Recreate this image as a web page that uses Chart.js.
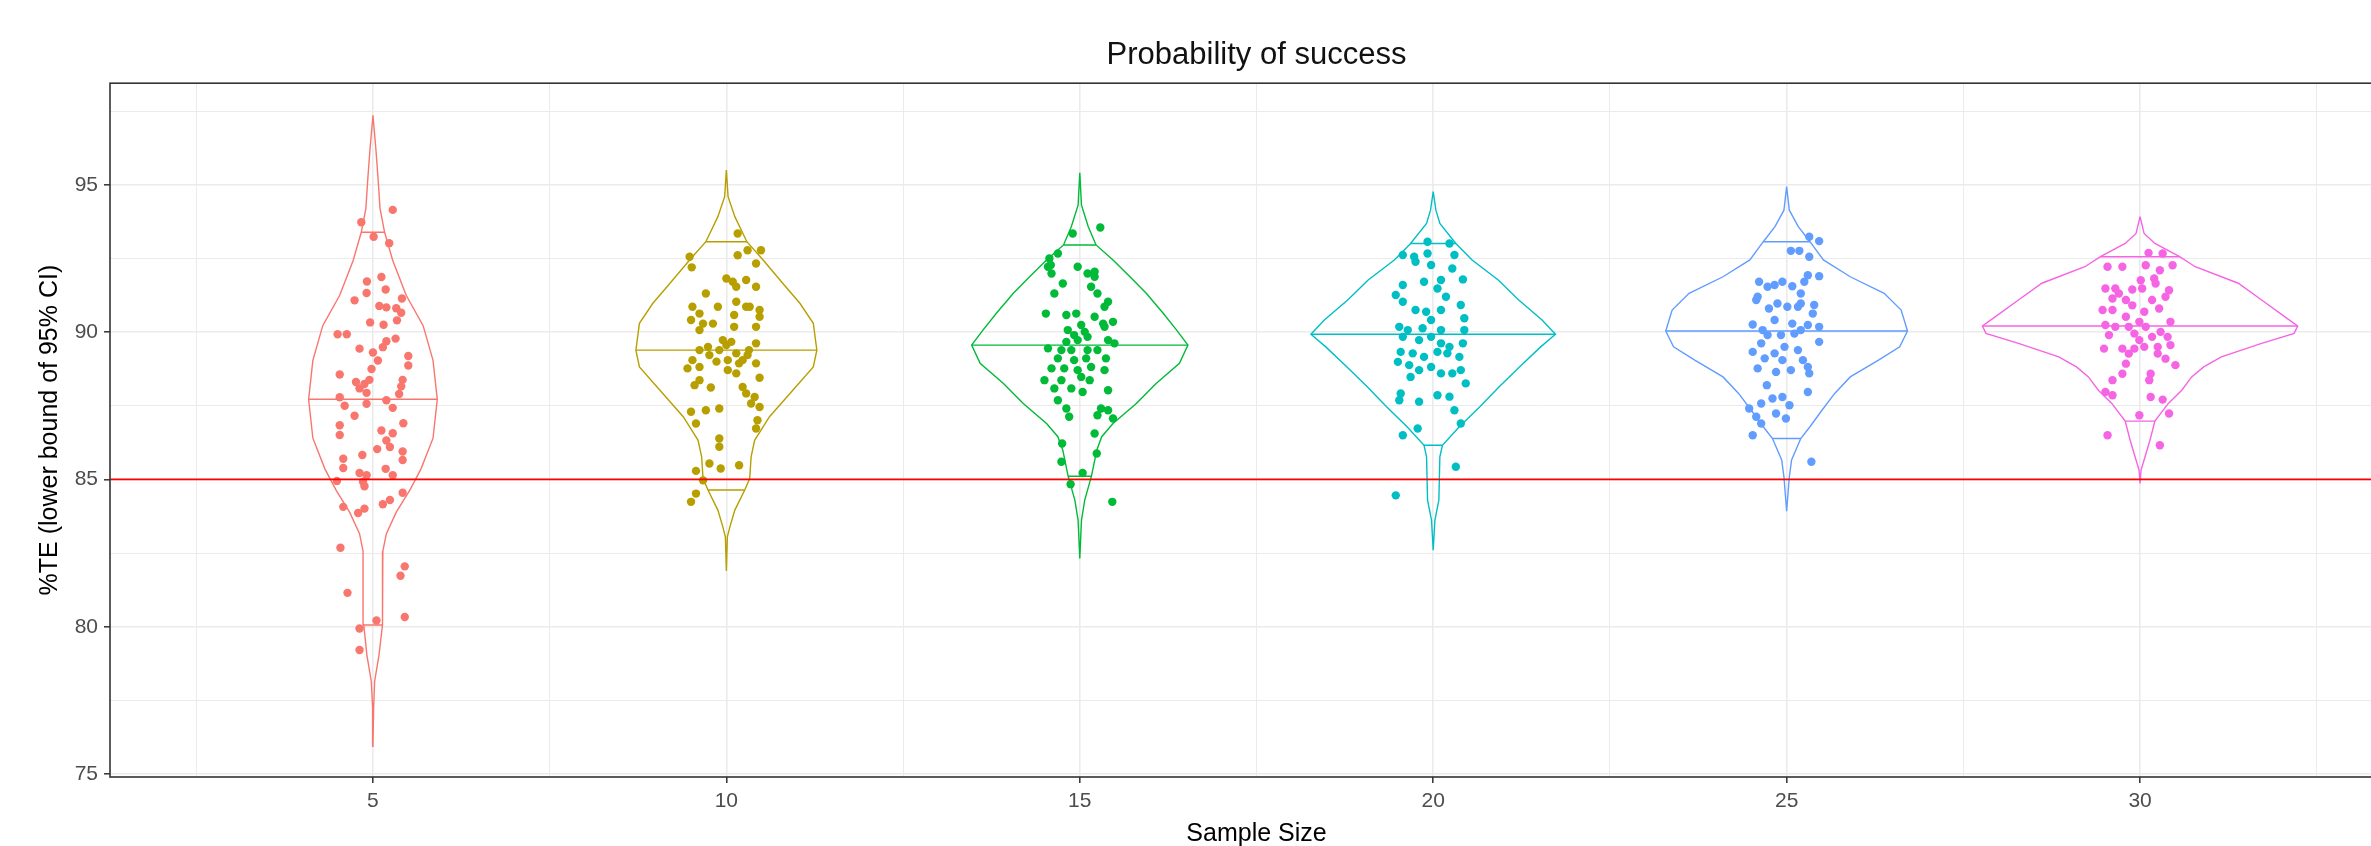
<!DOCTYPE html>
<html>
<head>
<meta charset="utf-8">
<script src="https://cdn.jsdelivr.net/npm/chart.js@4.4.1/dist/chart.umd.min.js"></script>
<style>
  html, body { margin: 0; padding: 0; background: #fff; overflow: hidden; }
  #wrap { position: relative; width: 2410px; height: 846px; }
</style>
</head>
<body>
<div id="wrap"><canvas id="violinChart"></canvas></div>
<script>
// categories and reference values
const sampleSizes = [5, 10, 15, 20, 25, 30];
const xTickLabels = [5, 10, 15, 20, 25, 30];
const yTickLabels = [75, 80, 85, 90, 95];
const threshold = 85;
const groupColors = ['#F8766D', '#B79F00', '#00BA38', '#00BFC4', '#619CFF', '#F564E3'];

// violin density profile, read top -> bottom: level and half width (x units)
const densityLevels = [
  [97.36, 96.26, 95.30, 94.20, 93.39, 92.43, 91.25, 90.22, 89.04, 87.72, 86.40, 85.36, 84.63, 83.89, 83.16, 82.57, 81.68, 80.06, 79.03, 78.15, 77.26, 75.94],
  [95.50, 94.60, 93.92, 93.07, 92.45, 91.65, 90.98, 90.30, 89.39, 88.82, 88.03, 87.13, 86.33, 85.77, 85.03, 84.64, 83.96, 83.39, 83.05, 81.89],
  [95.41, 94.31, 93.58, 92.96, 92.45, 91.88, 91.32, 90.64, 90.07, 89.56, 88.94, 88.26, 87.58, 86.90, 86.45, 85.99, 85.11, 84.30, 83.62, 82.32],
  [94.77, 94.14, 93.69, 93.01, 92.45, 91.77, 91.09, 90.41, 89.93, 89.50, 88.82, 88.14, 87.47, 86.79, 86.16, 85.77, 84.30, 83.62, 82.60],
  [94.94, 94.14, 93.58, 93.07, 92.45, 91.88, 91.32, 90.75, 90.04, 89.50, 89.05, 88.48, 87.92, 87.35, 86.79, 86.39, 85.66, 85.09, 83.92],
  [93.92, 93.35, 93.01, 92.56, 92.22, 91.66, 91.09, 90.52, 90.21, 89.96, 89.62, 89.16, 88.82, 88.48, 88.03, 87.58, 86.98, 86.33, 85.66, 85.32, 84.86]
];
const densityHalfWidths = [
  [0, 0.04, 0.07, 0.10, 0.165, 0.28, 0.47, 0.71, 0.85, 0.91, 0.85, 0.68, 0.52, 0.33, 0.19, 0.14, 0.14, 0.13, 0.085, 0.024, 0.01, 0],
  [0, 0.024, 0.12, 0.29, 0.52, 0.80, 1.04, 1.23, 1.28, 1.23, 0.94, 0.61, 0.40, 0.35, 0.33, 0.26, 0.12, 0.05, 0.014, 0],
  [0, 0.024, 0.12, 0.23, 0.47, 0.71, 0.94, 1.18, 1.37, 1.53, 1.41, 1.08, 0.80, 0.47, 0.31, 0.24, 0.165, 0.07, 0.024, 0],
  [0, 0.038, 0.094, 0.32, 0.55, 0.92, 1.21, 1.54, 1.73, 1.52, 1.22, 0.93, 0.66, 0.37, 0.13, 0.094, 0.08, 0.024, 0],
  [0, 0.038, 0.165, 0.33, 0.52, 0.90, 1.38, 1.62, 1.71, 1.60, 1.30, 0.90, 0.68, 0.50, 0.33, 0.20, 0.07, 0.038, 0],
  [0, 0.057, 0.21, 0.56, 0.78, 1.39, 1.72, 2.05, 2.23, 2.18, 1.72, 1.15, 0.90, 0.73, 0.59, 0.40, 0.21, 0.14, 0.057, 0.014, 0]
];
// draw_quantiles: lower, median, upper
const quantileLevels = [
  [80.06, 87.72, 93.39],
  [84.64, 89.39, 93.07],
  [85.11, 89.56, 92.96],
  [86.16, 89.93, 93.01],
  [86.39, 90.04, 93.07],
  [86.98, 90.21, 92.56]
];

// jittered observations: [horizontal jitter, %TE]
const jitter5 = [[0.28,94.15],[-0.165,93.73],[0.01,93.24],[0.23,93.02],[-0.085,91.72],[0.12,91.87],[-0.09,91.33],[0.18,91.45],[-0.26,91.08],[0.41,91.14],[0.09,90.89],[0.19,90.84],[0.33,90.81],[0.40,90.66],[0.34,90.40],[-0.04,90.33],[0.15,90.25],[-0.50,89.93],[-0.37,89.93],[0.32,89.78],[0.19,89.69],[-0.19,89.44],[0.14,89.49],[0,89.31],[0.07,89.04],[0.50,89.19],[0.50,88.87],[-0.02,88.75],[-0.47,88.56],[0.42,88.38],[-0.24,88.31],[-0.12,88.24],[-0.05,88.38],[0.40,88.16],[-0.19,88.09],[-0.09,87.94],[-0.47,87.79],[0.37,87.90],[0.19,87.69],[-0.40,87.50],[-0.09,87.57],[0.28,87.43],[-0.26,87.16],[0.43,86.91],[-0.47,86.84],[0.12,86.66],[0.28,86.57],[-0.47,86.51],[0.19,86.32],[0.06,86.03],[0.24,86.10],[0.42,85.95],[-0.42,85.70],[-0.15,85.83],[0.42,85.66],[-0.42,85.39],[0.18,85.36],[-0.19,85.22],[-0.09,85.14],[0.28,85.14],[-0.51,84.95],[-0.14,84.92],[-0.12,84.77],[0.42,84.55],[-0.42,84.07],[-0.12,84.01],[-0.21,83.86],[0.14,84.16],[0.24,84.30],[-0.46,82.68],[0.45,82.05],[0.39,81.73],[-0.36,81.15],[0.45,80.33],[0.05,80.21],[-0.19,79.94],[-0.19,79.21]];
const jitter10 = [[0.16,93.35],[-0.52,92.56],[-0.49,92.20],[0.16,92.61],[0.30,92.78],[0.49,92.78],[0.42,92.33],[0,91.82],[0.09,91.71],[0.28,91.77],[0.42,91.54],[-0.29,91.31],[0.14,91.03],[0.28,90.86],[0.47,90.75],[-0.48,90.86],[-0.38,90.63],[-0.12,90.86],[0.11,90.58],[0.47,90.52],[-0.50,90.41],[-0.19,90.29],[0.11,90.18],[0.42,90.18],[-0.38,90.07],[-0.05,89.73],[0,89.56],[0.42,89.62],[0.32,89.39],[-0.38,89.39],[-0.24,89.22],[0.14,89.28],[-0.48,89.05],[-0.14,89.00],[0.02,89.05],[0.23,89.05],[-0.55,88.77],[-0.38,88.82],[0.02,88.71],[0.14,88.60],[0.47,88.45],[-0.38,88.37],[-0.45,88.20],[-0.22,88.12],[0.23,88.14],[0.28,87.92],[0.40,87.80],[0.47,87.46],[-0.50,87.30],[-0.29,87.35],[-0.10,87.41],[-0.43,86.90],[0.44,87.01],[0.42,86.73],[-0.10,86.39],[-0.10,86.11],[-0.24,85.54],[-0.43,85.29],[-0.08,85.37],[0.18,85.48],[-0.33,84.97],[-0.43,84.52],[-0.50,84.24],[0.07,89.67],[-0.26,89.50],[0.33,90.86],[-0.33,90.29],[0.18,88.94],[0.30,89.22],[-0.10,89.39],[0.42,88.94],[0.35,87.58],[0.14,91.54]];
const jitter15 = [[0.29,93.55],[-0.10,93.35],[-0.31,92.67],[-0.43,92.50],[-0.03,92.22],[0.11,91.99],[0.21,91.88],[-0.45,92.22],[-0.40,91.99],[-0.24,91.65],[0.16,91.54],[0.25,91.31],[-0.36,91.31],[0.40,91.03],[0.35,90.86],[-0.48,90.63],[-0.19,90.58],[-0.05,90.63],[0.21,90.52],[0.47,90.35],[0.35,90.18],[0.02,90.24],[0.07,90.01],[-0.08,89.90],[0.11,89.84],[-0.19,89.67],[-0.03,89.73],[0.40,89.73],[0.49,89.62],[-0.45,89.45],[-0.26,89.39],[-0.12,89.39],[0.11,89.39],[0.25,89.39],[-0.31,89.11],[-0.08,89.05],[0.09,89.11],[0.37,89.11],[-0.40,88.77],[-0.22,88.77],[-0.03,88.71],[0.16,88.82],[0.35,88.71],[-0.50,88.37],[-0.26,88.37],[0.02,88.48],[-0.36,88.09],[-0.12,88.09],[0.04,87.97],[0.40,88.03],[-0.31,87.69],[-0.19,87.41],[-0.15,87.13],[0.30,87.41],[0.40,87.35],[0.25,87.18],[0.47,87.07],[0.21,86.56],[-0.25,86.22],[0.24,85.88],[-0.26,85.60],[0.04,85.22],[-0.13,84.84],[0.46,84.24],[-0.41,92.28],[0.21,92.05],[0.33,90.29],[-0.17,90.07],[0.14,88.37]];
const jitter20 = [[-0.08,93.07],[0.23,93.01],[-0.43,92.62],[-0.27,92.56],[-0.08,92.67],[0.30,92.62],[-0.25,92.39],[-0.03,92.28],[0.27,92.16],[0.42,91.79],[-0.43,91.60],[-0.13,91.71],[0.11,91.77],[-0.53,91.26],[-0.43,91.03],[0.06,91.48],[0.18,91.20],[0.39,90.92],[-0.25,90.75],[-0.10,90.69],[0.11,90.75],[0.44,90.47],[-0.48,90.18],[-0.36,90.07],[-0.15,90.13],[-0.03,90.41],[0.11,90.07],[0.44,90.07],[-0.43,89.84],[-0.20,89.73],[-0.03,89.84],[0.11,89.62],[0.23,89.50],[0.42,89.62],[-0.46,89.33],[-0.29,89.28],[-0.13,89.16],[0.06,89.33],[0.20,89.28],[0.37,89.16],[-0.50,88.99],[-0.34,88.88],[-0.20,88.71],[-0.03,88.82],[0.11,88.60],[0.27,88.60],[0.39,88.71],[-0.32,88.48],[0.46,88.26],[-0.46,87.92],[-0.48,87.69],[-0.20,87.64],[0.06,87.86],[0.23,87.81],[0.30,87.35],[-0.22,86.73],[-0.43,86.50],[0.39,86.90],[0.32,85.43],[-0.53,84.46]];
const jitter25 = [[0.32,93.24],[0.46,93.09],[0.06,92.76],[0.18,92.76],[0.32,92.56],[0.30,91.93],[0.46,91.90],[-0.39,91.71],[-0.17,91.60],[-0.06,91.71],[0.08,91.56],[0.25,91.71],[-0.41,91.20],[0.20,91.31],[-0.43,91.09],[-0.13,90.97],[0.01,90.86],[0.20,90.97],[0.39,90.92],[-0.17,90.41],[-0.48,90.26],[-0.34,90.07],[0.08,90.29],[0.30,90.24],[0.46,90.18],[-0.27,89.90],[-0.08,89.90],[0.11,89.95],[0.20,90.07],[0.46,89.67],[-0.36,89.62],[-0.48,89.33],[-0.31,89.11],[-0.06,89.05],[0.23,89.05],[0.30,88.82],[-0.41,88.77],[-0.15,88.65],[0.06,88.71],[0.32,88.60],[-0.28,88.20],[0.30,87.97],[-0.36,87.58],[-0.20,87.75],[-0.06,87.80],[0.04,87.52],[-0.53,87.41],[-0.15,87.24],[-0.01,87.07],[-0.43,87.13],[-0.36,86.90],[-0.48,86.50],[0.35,85.60],[0.16,90.86],[-0.25,90.80],[-0.03,89.50],[0.16,89.39],[-0.17,89.28],[-0.27,91.54],[0.37,90.63]];
const jitter30 = [[0.12,92.69],[0.32,92.67],[-0.46,92.22],[-0.25,92.22],[0.08,92.27],[0.28,92.10],[0.46,92.27],[0.20,91.82],[0.01,91.76],[0.03,91.48],[-0.49,91.48],[-0.35,91.48],[-0.11,91.45],[0.41,91.42],[0.36,91.20],[-0.39,91.14],[-0.20,91.09],[0.17,91.09],[-0.11,90.91],[-0.53,90.75],[-0.39,90.75],[0.06,90.69],[0.27,90.80],[-0.20,90.52],[-0.01,90.35],[0.43,90.35],[-0.49,90.24],[-0.35,90.18],[-0.16,90.18],[0.08,90.18],[0.29,90.01],[-0.44,89.90],[-0.08,89.95],[0.17,89.84],[0.39,89.84],[0.43,89.56],[-0.51,89.44],[-0.25,89.44],[-0.08,89.44],[0.06,89.50],[0.25,89.50],[0.25,89.27],[0.36,89.10],[0.50,88.88],[-0.20,88.93],[-0.25,88.59],[0.15,88.59],[-0.39,88.37],[0.13,88.37],[-0.49,87.97],[-0.39,87.86],[0.15,87.80],[0.32,87.71],[0.41,87.24],[-0.01,87.18],[-0.46,86.50],[0.28,86.16],[-0.30,91.31],[-0.01,89.73],[-0.16,89.27],[0.22,91.65]];
const jitterPoints = [jitter5, jitter10, jitter15, jitter20, jitter25, jitter30];

const X_MIN = 1.28, X_MAX = 33.72;
const Y_MIN = 74.9, Y_MAX = 98.45;

function violinOutline(i) {
  const c = sampleSizes[i];
  const lv = densityLevels[i], hw = densityHalfWidths[i];
  const right = lv.map((y, k) => ({ x: c + hw[k], y: y }));
  const left = lv.map((y, k) => ({ x: c - hw[k], y: y })).reverse();
  return right.concat(left);
}

function halfWidthAt(i, level) {
  const lv = densityLevels[i], hw = densityHalfWidths[i];
  for (let k = 0; k < lv.length - 1; k++) {
    if (level <= lv[k] && level >= lv[k + 1]) {
      const t = (lv[k] - level) / (lv[k] - lv[k + 1]);
      return hw[k] + t * (hw[k + 1] - hw[k]);
    }
  }
  return 0;
}

function quantileSegments(i) {
  const c = sampleSizes[i];
  const pts = [];
  quantileLevels[i].forEach(q => {
    const w = halfWidthAt(i, q);
    pts.push({ x: c - w, y: q }, { x: c + w, y: q }, { x: c, y: null });
  });
  return pts;
}

const datasets = [];
// threshold line on top
datasets.push({
  type: 'line',
  data: [{ x: X_MIN, y: threshold }, { x: X_MAX, y: threshold }],
  borderColor: '#FF0000', borderWidth: 1.8, pointRadius: 0, order: 0
});
sampleSizes.forEach((s, i) => {
  datasets.push({
    type: 'scatter',
    data: jitterPoints[i].map(p => ({ x: s + p[0], y: p[1] })),
    backgroundColor: groupColors[i], borderWidth: 0,
    pointRadius: 4.2, pointStyle: 'circle', order: 1
  });
  datasets.push({
    type: 'line',
    data: violinOutline(i),
    borderColor: groupColors[i], borderWidth: 1.4,
    pointRadius: 0, tension: 0, fill: false, order: 2
  });
  datasets.push({
    type: 'line',
    data: quantileSegments(i),
    borderColor: groupColors[i], borderWidth: 1.4,
    pointRadius: 0, spanGaps: false, fill: false, order: 2
  });
});

const isMajor = v => Math.abs(v / 5 - Math.round(v / 5)) < 1e-6;

// panel border like ggplot's theme_bw
const panelBorder = {
  id: 'panelBorder',
  afterDatasetsDraw(chart) {
    const { ctx, chartArea: a } = chart;
    ctx.save();
    ctx.strokeStyle = '#333333';
    ctx.lineWidth = 1.6;
    ctx.strokeRect(a.left, a.top, a.right - a.left, a.bottom - a.top);
    ctx.restore();
  }
};

Chart.defaults.font.family = "'Liberation Sans', Arial, sans-serif";

window.addEventListener('DOMContentLoaded', () => {
  const ctx = document.getElementById('violinChart').getContext('2d');
  new Chart(ctx, {
    type: 'scatter',
    data: { datasets: datasets },
    plugins: [panelBorder],
    options: {
      responsive: true,
      maintainAspectRatio: false,
      animation: false,
      layout: { padding: { left: 0, right: 7, top: 0, bottom: 0 } },
      plugins: {
        legend: { display: false },
        tooltip: { enabled: false },
        title: {
          display: true,
          text: 'Probability of success',
          color: '#111111',
          fullSize: false,
          font: { size: 31, weight: 'normal' },
          padding: { top: 36.5, bottom: 9.5 }
        }
      },
      scales: {
        x: {
          type: 'linear',
          min: X_MIN, max: X_MAX,
          afterFit: s => { s.height = 69; },
          border: { display: false },
          grid: {
            color: '#EBEBEB',
            lineWidth: c => (c.tick && isMajor(c.tick.value)) ? 1.6 : 1,
            tickLength: 6,
            tickWidth: 1.5,
            tickColor: c => (c.tick && isMajor(c.tick.value)) ? '#333333' : 'rgba(0,0,0,0)'
          },
          ticks: {
            stepSize: 2.5, includeBounds: false, autoSkip: false, maxRotation: 0,
            padding: 6, color: '#4D4D4D', font: { size: 21 },
            callback: v => xTickLabels.includes(v) ? String(v) : ''
          },
          title: {
            display: true, text: 'Sample Size', color: '#000000',
            font: { size: 25 }, padding: { top: 0, bottom: -3 }
          }
        },
        y: {
          type: 'linear',
          min: Y_MIN, max: Y_MAX,
          afterFit: s => { s.width = 110; },
          border: { display: false },
          grid: {
            color: '#EBEBEB',
            lineWidth: c => (c.tick && isMajor(c.tick.value)) ? 1.6 : 1,
            tickLength: 6,
            tickWidth: 1.5,
            tickColor: c => (c.tick && isMajor(c.tick.value)) ? '#333333' : 'rgba(0,0,0,0)'
          },
          ticks: {
            stepSize: 2.5, includeBounds: false, autoSkip: false,
            padding: 6, color: '#4D4D4D', font: { size: 21 },
            callback: v => yTickLabels.includes(v) ? String(v) : ''
          },
          title: {
            display: true, text: '%TE (lower bound of 95% CI)', color: '#000000',
            font: { size: 25 }, padding: { top: 35, bottom: 0 }
          }
        }
      }
    }
  });
});
</script>
</body>
</html>
